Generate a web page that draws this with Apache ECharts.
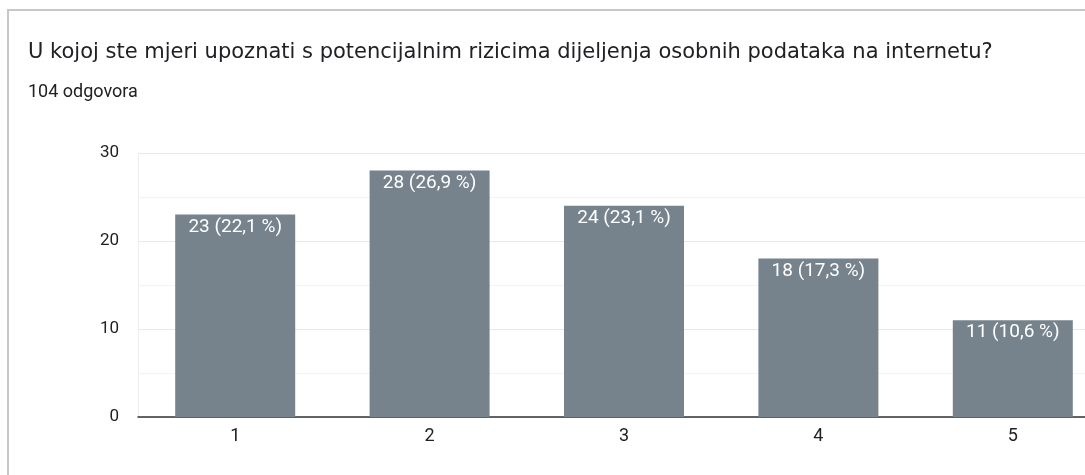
<!DOCTYPE html>
<html>
<head>
<meta charset="utf-8">
<script src="https://cdn.jsdelivr.net/npm/echarts@6/dist/echarts.min.js"></script>
<style>
  body { margin: 0; background: #fff; overflow: hidden; }
  #main { width: 1085px; height: 475px; }
  #card { position: absolute; left: 7px; top: 9px; width: 1200px; height: 600px;
          border: 2px solid #c8c8c8; pointer-events: none; }
</style>
</head>
<body>
<div id="main"></div>
<div id="card"></div>
<script>
// podaci iz ankete
var categories = ['1', '2', '3', '4', '5'];
var counts = [23, 28, 24, 18, 11];
var percents = ['22,1', '26,9', '23,1', '17,3', '10,6'];
var yTicks = [0, 10, 20, 30];

var myChart = echarts.init(document.getElementById('main'));

var option = {
    title: {
        text: 'U kojoj ste mjeri upoznati s potencijalnim rizicima dijeljenja osobnih podataka na internetu?',
        subtext: '104 odgovora',
        left: 23,
        top: 37,
        itemGap: 20,
        textStyle: { fontFamily: 'DejaVu Sans', fontSize: 21, fontWeight: 'normal', color: '#202124' },
        subtextStyle: { fontFamily: 'Roboto', fontSize: 18, color: '#202124' }
    },
    grid: { left: 138, width: 972, top: 153, bottom: 58, outerBoundsMode: 'none', containLabel: false },
    xAxis: {
        type: 'category',
        data: categories,
        axisTick: { show: false },
        axisLine: { lineStyle: { color: '#333', width: 1.5 } },
        axisLabel: { fontFamily: 'Roboto', fontSize: 18, color: '#222', margin: 10 }
    },
    yAxis: {
        type: 'value',
        min: yTicks[0],
        max: yTicks[yTicks.length - 1],
        interval: 10,
        axisLine: { show: true, lineStyle: { color: '#eeeeee' } },
        axisTick: { show: false },
        axisLabel: { fontFamily: 'Roboto', fontSize: 17, color: '#222', margin: 19 },
        splitLine: { lineStyle: { color: '#e8e8e8' } },
        minorTick: { show: false, splitNumber: 2 },
        minorSplitLine: { show: true, lineStyle: { color: '#f3f3f3' } }
    },
    series: [{
        type: 'bar',
        data: counts,
        barWidth: 120,
        itemStyle: { color: '#76838d' },
        label: {
            show: true,
            position: 'insideTop',
            distance: 3,
            fontFamily: 'Roboto',
            fontSize: 19,
            color: '#fff',
            formatter: function (p) { return p.value + ' (' + percents[p.dataIndex] + ' %)'; }
        }
    }]
};
myChart.setOption(option);
</script>
</body>
</html>
